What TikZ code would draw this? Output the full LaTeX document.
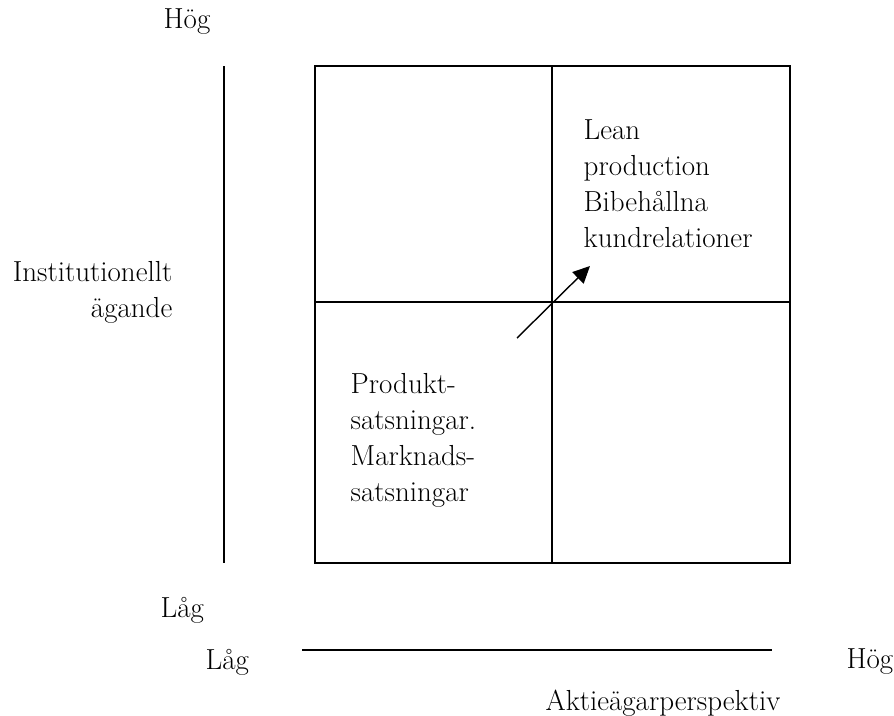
\documentclass[tikz,border=0pt]{standalone}
\usetikzlibrary{arrows.meta}
\begin{document}
\begin{tikzpicture}[x=1pt,y=-1pt,line width=1.4pt]
\useasboundingbox (0,0) rectangle (894,715);
\begin{scope}[every node/.style = {inner sep=0pt, font=\fontsize{29}{36}\selectfont}]
\node (hogy) at (187,22) {Hög};
\node[anchor=east, align=right] (inst) at (173,292) {Institutionellt\\ägande};
\node[anchor=west] (lagy) at (160,610) {Låg};
\node[anchor=west] (lagx) at (205,662) {Låg};
\node[anchor=east] (hogx) at (894,662) {Hög};
\node (aktie) at (663,703) {Aktieägarperspektiv};
\node[anchor=north west, align=left] (lean) at (583,119) {Lean\\production\\Bibehållna\\kundrelationer};
\node[anchor=north west, align=left] (prod) at (350,373) {Produkt-\\satsningar.\\Marknads-\\satsningar};
\end{scope}
% matris
\coordinate (nw) at (315,66);
\coordinate (se) at (790,563);
\coordinate (top) at (552,66);
\coordinate (bot) at (552,563);
\coordinate (lft) at (315,302);
\coordinate (rgt) at (790,302);
\draw (nw) rectangle (se);
\draw (top) -- (bot);
\draw (lft) -- (rgt);
% axlar
\coordinate (ya) at (224,66);
\coordinate (yb) at (224,563);
\coordinate (xa) at (302,650);
\coordinate (xb) at (772,650);
\draw (ya) -- (yb);
\draw (xa) -- (xb);
% pil
\coordinate (pa) at (517,338);
\coordinate (pb) at (590,266);
\draw[-{Triangle[length=17pt,width=16pt]}] (pa) -- (pb);
\end{tikzpicture}
\end{document}
